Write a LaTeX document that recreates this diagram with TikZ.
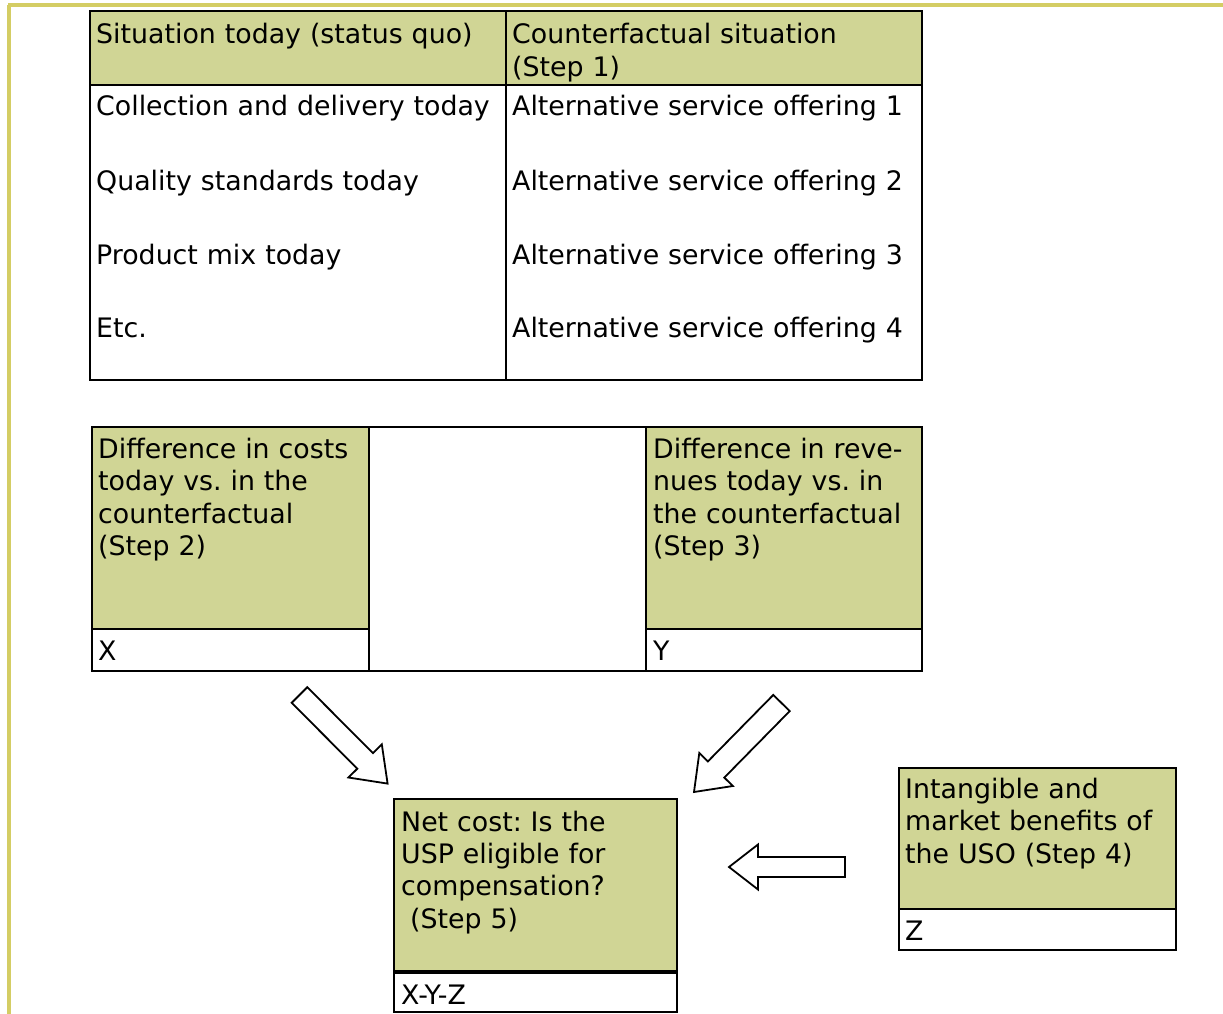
\documentclass[tikz,border=0pt]{standalone}
\usepackage{fontspec}
\setmainfont{DejaVu Sans}
\usepackage{xcolor}
\usetikzlibrary{positioning}
\definecolor{cellgreen}{RGB}{208,213,149}
\definecolor{framegold}{RGB}{212,205,100}
\frenchspacing

\begin{document}
\begin{tikzpicture}[x=1pt,y=-1pt]
  \tikzstyle{txt}=[anchor=base west,inner sep=0pt,text width=400pt,align=left,font=\fontsize{26.8}{32.4}\selectfont]
  \tikzstyle{grid}=[draw=black,line width=2.4pt]
  \tikzstyle{green}=[fill=cellgreen]
  \tikzstyle{hollow}=[draw=black,line width=1.8pt,fill=white,line join=miter]
  \useasboundingbox (0,0) rectangle (1223,1014);
  % page frame
  \draw[framegold,line width=3.5pt] (8,5) -- (1223,5);
  \draw[framegold,line width=3.5pt] (9,5) -- (9,1014);
  % table: status quo vs counterfactual
  \fill[green] (90,11) rectangle (922,85);
  \draw[grid] (90,11) rectangle (922,380);
  \draw[grid] (90,85) -- (922,85);
  \draw[grid] (506,11) -- (506,380);
  \node[txt] (sq) at (96,44) {Situation today (status quo)};
  \node[txt] (cf) at (512,44) {Counterfactual situation\\(Step 1)};
  \node[txt] (sq1) at (96,116) {Collection and delivery today};
  \node[txt] (sq2) at (96,190) {Quality standards today};
  \node[txt] (sq3) at (96,264) {Product mix today};
  \node[txt] (sq4) at (96,337) {Etc.};
  \node[txt] (cf1) at (512,116) {Alternative service offering 1};
  \node[txt] (cf2) at (512,190) {Alternative service offering 2};
  \node[txt] (cf3) at (512,264) {Alternative service offering 3};
  \node[txt] (cf4) at (512,337) {Alternative service offering 4};
  % costs and revenues
  \fill[green] (92,427) rectangle (369,629);
  \fill[green] (646,427) rectangle (922,629);
  \draw[grid] (92,427) rectangle (922,671);
  \draw[grid] (369,427) -- (369,671);
  \draw[grid] (646,427) -- (646,671);
  \draw[grid] (92,629) -- (369,629);
  \draw[grid] (646,629) -- (922,629);
  \node[txt] (costs) at (98,458.5) {Difference in costs\\today vs. in the\\counterfactual\\(Step 2)};
  \node[txt] (revs) at (653,458.5) {Difference in reve-\\nues today vs. in\\the counterfactual\\(Step 3)};
  \node[txt] (x) at (98,660) {X};
  \node[txt] (y) at (653,660) {Y};
  % net cost
  \fill[green] (394,799) rectangle (677,972);
  \draw[grid] (394,799) rectangle (677,1012);
  \draw[draw=black,line width=3.2pt] (394,972) -- (677,972);
  \node[txt] (net) at (401,831) {Net cost: Is the\\USP eligible for\\compensation?\\~(Step 5)};
  \node[txt] (xyz) at (401,1004.5) {X-Y-Z};
  % intangible benefits
  \fill[green] (899,768) rectangle (1176,909);
  \draw[grid] (899,768) rectangle (1176,950);
  \draw[grid] (899,909) -- (1176,909);
  \node[txt] (ben) at (905,798.5) {Intangible and\\market benefits of\\the USO (Step 4)};
  \node[txt] (z) at (905,940) {Z};
  % block arrows
  \draw[hollow] (307.3,687.2) -- (372.9,753.1) -- (381.8,744.3) -- (387.6,783.6)
    -- (348.4,777.5) -- (357.3,768.7) -- (291.7,702.8) -- cycle;
  \draw[hollow] (773.3,694.9) -- (707.9,761.4) -- (699.3,753) -- (694,792)
    -- (732.9,786) -- (724.3,777.6) -- (789.7,711.1) -- cycle;
  \draw[hollow] (845,857) -- (758,857) -- (758,844.5) -- (729,867)
    -- (758,889.5) -- (758,877) -- (845,877) -- cycle;
\end{tikzpicture}
\end{document}
